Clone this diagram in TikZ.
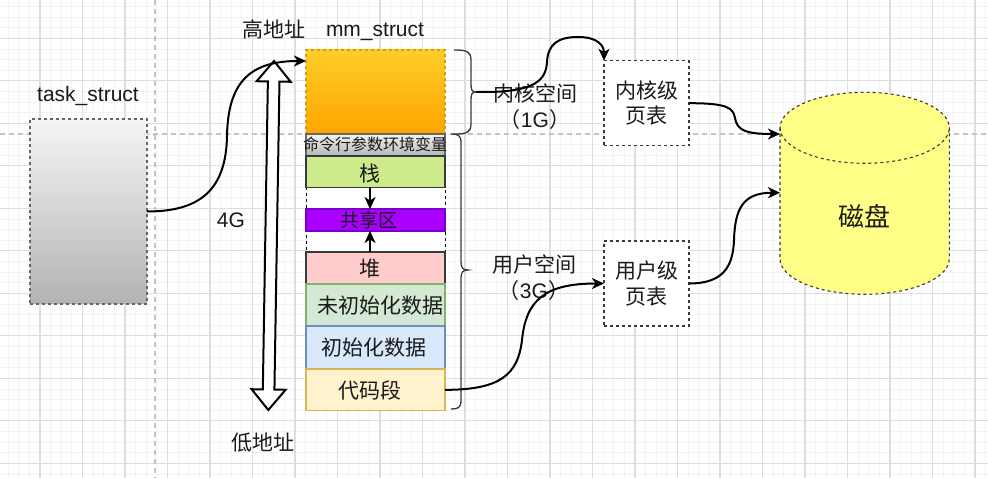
\documentclass[tikz,border=0pt]{standalone}
\usepackage{fontspec}
\setmainfont{Liberation Sans}
\newfontfamily\cjk{Noto Sans CJK SC}
\usetikzlibrary{arrows.meta}
\definecolor{gminor}{HTML}{F3F3F3}
\definecolor{gmajor}{HTML}{DEDEDE}
\definecolor{pagel}{HTML}{C4C4C4}
\definecolor{ink}{HTML}{1A1A1A}
\definecolor{kernT}{HTML}{FFCD28}
\definecolor{kernB}{HTML}{FFA500}
\definecolor{kernS}{HTML}{D79B00}
\definecolor{grayT}{HTML}{F5F5F5}
\definecolor{grayB}{HTML}{B3B3B3}
\definecolor{grayS}{HTML}{666666}
\definecolor{darkS}{HTML}{36393D}
\definecolor{stackF}{HTML}{CDEB8B}
\definecolor{shareF}{HTML}{AA00FF}
\definecolor{shareS}{HTML}{7700CC}
\definecolor{heapF}{HTML}{FFCCCC}
\definecolor{bssF}{HTML}{D5E8D4}
\definecolor{bssS}{HTML}{82B366}
\definecolor{dataF}{HTML}{DAE8FC}
\definecolor{dataS}{HTML}{6C8EBF}
\definecolor{codeF}{HTML}{FFF2CC}
\definecolor{codeS}{HTML}{D6B656}
\definecolor{diskF}{HTML}{FFFF88}
\begin{document}
\begin{tikzpicture}[x=1pt,y=-1pt,
  every node/.style={inner sep=0pt,outer sep=0pt},
  seg/.style={draw, line width=1.2pt, minimum width=139pt, anchor=north west},
  cjkt/.style={font=\cjk\fontsize{21}{26}\selectfont, text=ink, align=center},
  latt/.style={font=\fontsize{21}{26}\selectfont, text=ink, anchor=base},
  ptbox/.style={draw=darkS, dashed, line width=1.2pt, fill=white, minimum width=85pt, minimum height=85pt, font=\cjk\fontsize{21}{25.6}\selectfont, text=ink, align=center},
  conn/.style={draw=black, line width=2pt, -{Stealth[length=12pt,width=11pt,inset=3.5pt]}},
  bracel/.style={draw=darkS, line width=1.3pt},
  minorl/.style={draw=gminor, line width=0.8pt},
  majorl/.style={draw=gmajor, line width=1.1pt},
  pagebr/.style={draw=pagel, line width=1.2pt, dash pattern=on 5pt off 4pt},
]
% background and grid
\fill[white] (0,0) rectangle (988,478);
\useasboundingbox (0,0) rectangle (988,478);
\foreach \i in {0,...,93} {\draw[minorl] ({-2.5+10.625*\i},0) -- ({-2.5+10.625*\i},478);}
\foreach \i in {0,...,45} {\draw[minorl] (0,{-4.2+10.625*\i}) -- (988,{-4.2+10.625*\i});}
\foreach \i in {0,...,23} {\draw[majorl] ({-2.5+42.5*\i},0) -- ({-2.5+42.5*\i},478);}
\foreach \i in {0,...,11} {\draw[majorl] (0,{-4.2+42.5*\i}) -- (988,{-4.2+42.5*\i});}
\draw[pagebr] (155,0) -- (155,478);
\draw[pagebr] (0,134) -- (988,134);

% task_struct
\node[draw=grayS, dashed, line width=1.1pt, top color=grayT, bottom color=grayB, minimum width=117pt, minimum height=185pt] (task) at (88.5,211.5) {};
\node[latt] (tasklbl) at (88,101.7) {task\_struct};

% labels
\node[cjkt] (hi) at (274,29.5) {高地址};
\node[latt] (mm) at (375,36.7) {mm\_struct};
\node[latt] (four) at (231,228) {4G};
\node[cjkt] (lo) at (263.3,443) {低地址};

% big double hollow arrow
\draw[line width=2pt, fill=white, line join=miter] (274,61) -- (290.67,81.78) -- (279.47,81.6) -- (274.43,389.6) -- (285.63,389.78) -- (268.3,410) -- (251.63,389.22) -- (262.83,389.4) -- (267.87,81.4) -- (256.67,81.22) -- cycle;

% memory segments
\node[seg, draw=kernS, dashed, top color=kernT, bottom color=kernB, minimum height=84pt] (kern) at (306,50) {};
\node[seg, draw=grayS, top color=grayT, bottom color=grayB, minimum height=22pt] (env) at (306,134) {};
\node[seg, draw=black, dashed, line width=1pt, fill=white, minimum height=64.7pt] (gap) at (306,187.3) {};
\node[seg, draw=darkS, fill=stackF, minimum height=31.3pt] (stack) at (306,156) {};
\node[seg, draw=shareS, fill=shareF, minimum height=22pt] (shared) at (306,209) {};
\node[seg, draw=darkS, fill=heapF, minimum height=32pt] (heap) at (306,252) {};
\node[seg, draw=bssS, fill=bssF, minimum height=42pt] (bss) at (306,284) {};
\node[seg, draw=dataS, fill=dataF, minimum height=43pt] (data) at (306,326) {};
\node[seg, draw=codeS, fill=codeF, minimum height=41.7pt] (code) at (306,369) {};

\node[cjkt, font=\cjk\fontsize{16}{20}\selectfont] (tenv) at (375,144.7) {命令行参数环境变量};
\node[cjkt] (tstack) at (369.7,173.8) {栈};
\node[cjkt, font=\cjk\fontsize{19}{23}\selectfont] (tshared) at (369,220.3) {共享区};
\node[cjkt] (theap) at (370,269) {堆};
\node[cjkt] (tbss) at (380,305.8) {未初始化数据};
\node[cjkt] (tdata) at (374,348) {初始化数据};
\node[cjkt] (tcode) at (370,390.8) {代码段};

\draw[conn] ([xshift=-5.5pt]stack.south) -- ([xshift=-5.5pt]shared.north);
\draw[conn] ([xshift=-5.5pt]heap.north) -- ([xshift=-5.5pt]shared.south);

% braces
\draw[bracel] (454,50) .. controls (466,50) and (471,51) .. (471,60) -- (471,84) .. controls (471,90) and (472,92) .. (476,92) .. controls (472,92) and (471,94) .. (471,100) -- (471,124) .. controls (471,133) and (466,134) .. (454,134);
\draw[bracel] (451,134) .. controls (458,134) and (461,135) .. (461,143) -- (461,262) .. controls (461,268) and (463,270) .. (468,270) .. controls (463,270) and (461,272) .. (461,278) -- (461,400) .. controls (461,408) and (458,409) .. (451,409);
\coordinate (kbr) at (476,92);

\node[cjkt] (kspace) at (535,107) {内核空间\\（{\fontspec{Liberation Sans}1G}）};
\node[cjkt] (uspace) at (534,278) {用户空间\\（{\fontspec{Liberation Sans}3G}）};

% page tables
\node[ptbox] (kpt) at (646.5,103.2) {内核级\\页表};
\node[ptbox] (upt) at (646.5,283.5) {用户级\\页表};

% disk
\filldraw[fill=diskF, draw=darkS, dashed, line width=1.1pt] (780,127.8) -- (780,258.8) arc[start angle=180, end angle=0, x radius=84.65, y radius=35.5] -- (949.3,127.8) arc[start angle=0, end angle=-180, x radius=84.65, y radius=35.5] -- cycle;
\draw[draw=darkS, dashed, line width=1.1pt] (780,127.8) arc[start angle=180, end angle=0, x radius=84.65, y radius=35.5];
\node[cjkt, font=\cjk\fontsize{26}{30}\selectfont] (disk) at (864.7,216.7) {磁盘};
\coordinate (diskK) at (780,134);
\coordinate (diskU) at (780,192.7);

% connectors
\draw[conn] (task.east) .. controls (200,211.5) and (226,190) .. (227,136) .. controls (228,82) and (250,61) .. ([yshift=-11pt]kern.north west);
\draw[conn] (kbr) -- (490,92) .. controls (535,91) and (546,80) .. (547,62) .. controls (548,44) and (558,37) .. (578,37) .. controls (597,37) and (604,45) .. (kpt.north west);
\draw[conn] (kpt.east) .. controls (728,103.2) and (733,108) .. (735,118) .. controls (737,130) and (745,134) .. (diskK);
\draw[conn] (upt.east) .. controls (722,283.5) and (733,268) .. (734,240) .. controls (735,210) and (742,192.7) .. (diskU);
\draw[conn] (code.east) .. controls (500,389.8) and (518,375) .. (522,340) .. controls (526,300) and (545,283.5) .. (upt.west);
\end{tikzpicture}
\end{document}
